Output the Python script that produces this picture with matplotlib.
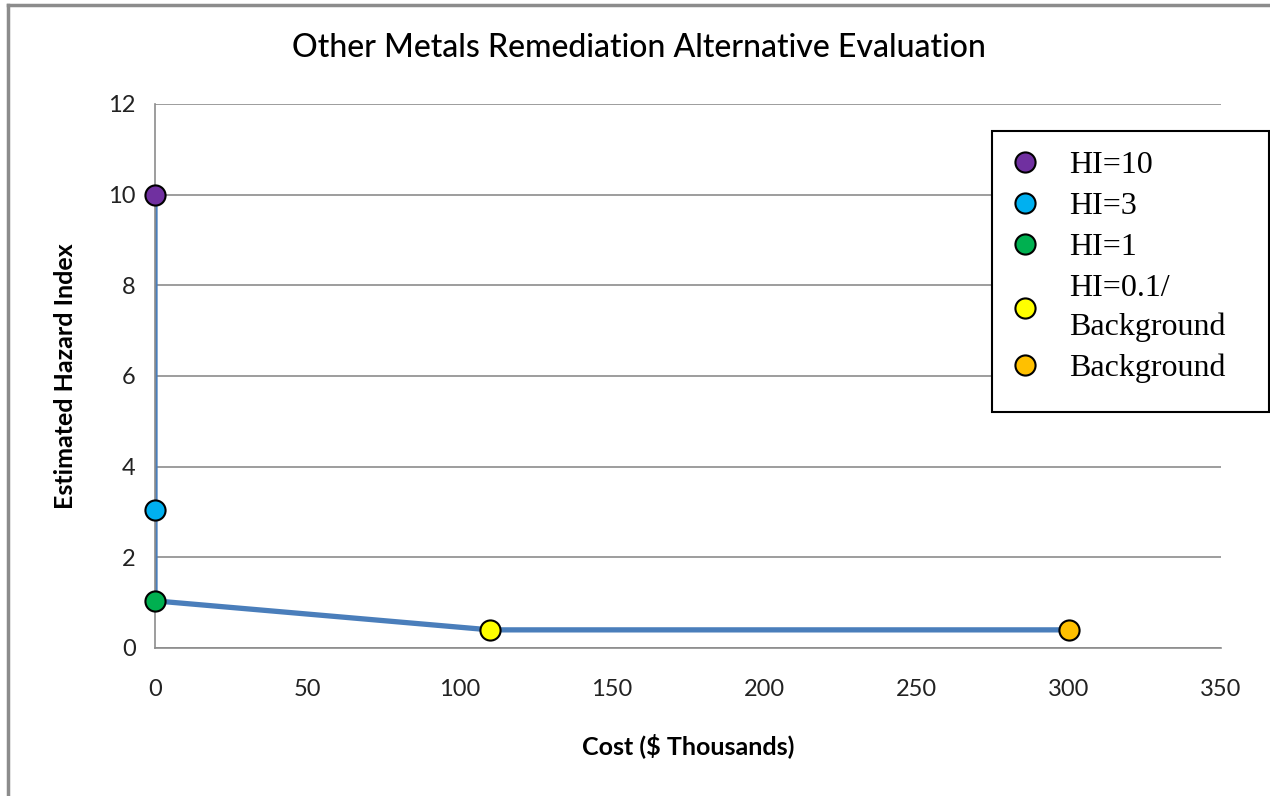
import matplotlib.pyplot as plt
from matplotlib.lines import Line2D
from matplotlib.patches import Rectangle

# data
cost = [0, 0, 0, 110, 300]
hazard = [10, 3.05, 1.04, 0.4, 0.4]
labels = ["HI=10", "HI=3", "HI=1", "HI=0.1/\nBackground", "Background"]
colors = ["#7030A0", "#00B0F0", "#00B050", "#FFFF00", "#FFC000"]
x_ticks = [0, 50, 100, 150, 200, 250, 300, 350]
y_ticks = [0, 2, 4, 6, 8, 10, 12]

plt.rcParams['font.family'] = ['Lato', 'DejaVu Sans']

W, H = 1270, 796
fig = plt.figure(figsize=(12.7, 7.96), dpi=100)
ax = fig.add_axes([155 / W, 1 - 648 / H, 1066 / W, 544 / H])

ax.plot(cost, hazard, color="#4A7EBB", linewidth=3.8, zorder=2, solid_capstyle='butt')
for c, h, lab, col in zip(cost, hazard, labels, colors):
    ax.plot([c], [h], linestyle='none', marker='o', markersize=14.5,
            markerfacecolor=col, markeredgecolor='black', markeredgewidth=1.5,
            label=lab, zorder=3, clip_on=False)

ax.set_xlim(0, 350)
ax.set_ylim(0, 12)
ax.set_xticks(x_ticks)
ax.set_yticks(y_ticks)
ax.tick_params(length=0, labelsize=17, colors='#222222', pad=14)
ax.tick_params(axis='x', pad=22)
ax.grid(axis='y', color='#8c8c8c', linewidth=1.2)
ax.set_axisbelow(True)
for side in ['top', 'right']:
    ax.spines[side].set_visible(False)
for side in ['left', 'bottom']:
    ax.spines[side].set_color('#8c8c8c')
    ax.spines[side].set_linewidth(1.2)

ax.set_xlabel("Cost ($ Thousands)", fontsize=18, fontweight='bold', labelpad=24)
ax.set_ylabel("Estimated Hazard Index", fontsize=18, fontweight='bold', labelpad=22)
fig.text(639 / W, 1 - 48 / H, "Other Metals Remediation Alternative Evaluation",
         ha='center', va='center', fontsize=23, fontweight='medium')

# legend box is drawn separately: the reference has wider padding on the right
ax.add_patch(Rectangle((992 / W, 1 - 412 / H), 277 / W, 281 / H, transform=fig.transFigure,
                       facecolor='white', edgecolor='black', linewidth=1.5,
                       zorder=4, clip_on=False))
leg = ax.legend(loc='upper left', bbox_to_anchor=(1006 / W, 1 - 151 / H),
                bbox_transform=fig.transFigure, frameon=False,
                prop={'family': 'Liberation Serif', 'size': 23},
                handletextpad=0.78, labelspacing=0.36, borderpad=0,
                handlelength=1.2, borderaxespad=0)
leg.set_zorder(5)
for t in leg.get_texts():
    t.set_linespacing(1.45)

# outer chart frame (only top and left edges visible in the reference)
fig.add_artist(Line2D([8 / W, 8 / W], [0, 1 - 5 / H], color='#8c8c8c', linewidth=2.5))
fig.add_artist(Line2D([8 / W, 1], [1 - 5 / H, 1 - 5 / H], color='#8c8c8c', linewidth=2.5))

fig.savefig("out.png", dpi=100)
